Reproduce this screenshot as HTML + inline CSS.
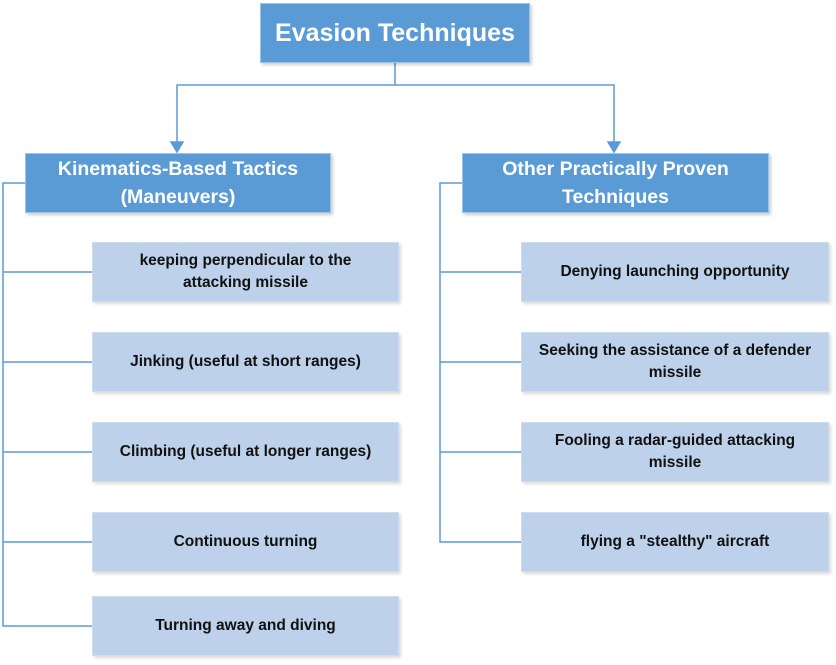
<!DOCTYPE html>
<html><head><style>
body{margin:0;width:836px;height:665px;background:#fff;position:relative;font-family:"Liberation Sans",sans-serif;overflow:hidden}
.b{position:absolute;display:flex;align-items:center;justify-content:center;text-align:center;box-sizing:border-box;font-weight:bold}
.h{background:#5b9bd5;color:#fff;border:1px solid #9fc3e6;box-shadow:2px 2px 3px rgba(0,0,0,.2)}
.c{background:#bdd1ea;color:#111;font-size:15.5px;line-height:22px;border:1px solid #cfdcee;box-shadow:2px 2px 3px rgba(0,0,0,.15)}
</style></head><body>
<svg width="836" height="665" style="position:absolute;left:0;top:0" fill="none" stroke="#5b9bd5" stroke-width="1.5">
<path d="M395 62V85H177V143M395 85H614V143"/>
<path d="M25 183H3V626H92M3 272H92M3 362H92M3 452H92M3 542H92"/>
<path d="M462 183H440V542H521M440 272H521M440 362H521M440 452H521"/>
<path d="M171 142L177 152L183 142Z M608 142L614 152L620 142Z" fill="#5b9bd5"/>
</svg>
<div class="b h" style="left:260px;top:3px;width:270px;height:60px;font-size:25px">Evasion Techniques</div>
<div class="b h" style="left:25px;top:153px;width:306px;height:60px;font-size:19.5px;line-height:28px">Kinematics-Based Tactics<br>(Maneuvers)</div>
<div class="b h" style="left:462px;top:153px;width:307px;height:60px;font-size:19.5px;line-height:28px">Other Practically Proven<br>Techniques</div>
<div class="b c" style="left:92px;top:242px;width:307px;height:60px">keeping perpendicular to the<br>attacking missile</div>
<div class="b c" style="left:92px;top:332px;width:307px;height:60px">Jinking (useful at short ranges)</div>
<div class="b c" style="left:92px;top:422px;width:307px;height:60px">Climbing (useful at longer ranges)</div>
<div class="b c" style="left:92px;top:512px;width:307px;height:60px">Continuous turning</div>
<div class="b c" style="left:92px;top:596px;width:307px;height:60px">Turning away and diving</div>
<div class="b c" style="left:521px;top:242px;width:308px;height:60px">Denying launching opportunity</div>
<div class="b c" style="left:521px;top:332px;width:308px;height:60px">Seeking the assistance of a defender<br>missile</div>
<div class="b c" style="left:521px;top:422px;width:308px;height:60px">Fooling a radar-guided attacking<br>missile</div>
<div class="b c" style="left:521px;top:512px;width:308px;height:60px">flying a "stealthy" aircraft</div>
</body></html>
